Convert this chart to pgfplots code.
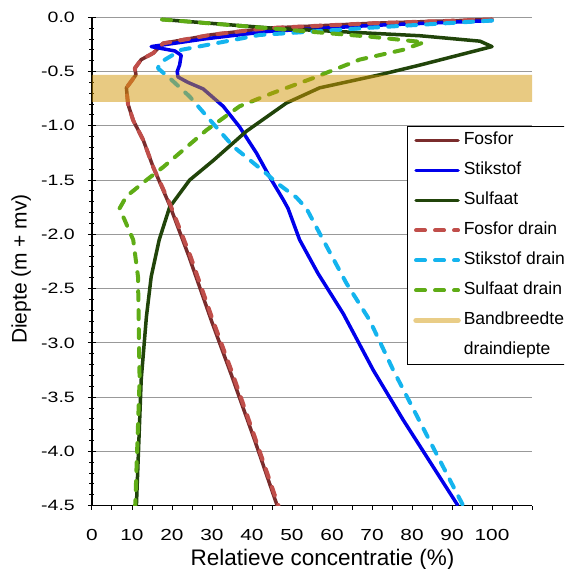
\documentclass[border=0pt]{standalone}
\usepackage{pgfplots}
\pgfplotsset{compat=1.18}
\usepackage{fontspec}
\setmainfont{Liberation Sans}
\usepackage{graphicx}
\definecolor{fosfor}{RGB}{122,44,44}
\definecolor{stik}{RGB}{0,0,235}
\definecolor{sulf}{RGB}{33,68,10}
\definecolor{fosfordr}{RGB}{192,78,74}
\definecolor{stikdr}{RGB}{20,180,238}
\definecolor{sulfdr}{RGB}{95,172,22}
\definecolor{bandfill}{RGB}{209,149,5}
\definecolor{bandleg}{RGB}{233,205,135}
\newcommand\sx[1]{\scalebox{1.3}[1]{#1}}
\begin{document}
\begin{tikzpicture}
\clip (-92pt,-63.3pt) rectangle (472pt,505.7pt);
\begin{axis}[
  scale only axis, width=440pt, height=488.4pt,
  xmin=0, xmax=110, ymin=-4.5, ymax=0,
  axis x line*=bottom, axis y line*=left,
  axis line style={line width=1.3pt, black},
  xtick={0,10,...,110}, minor x tick num=1,
  xticklabels={\sx{0},\sx{10},\sx{20},\sx{30},\sx{40},\sx{50},\sx{60},\sx{70},\sx{80},\sx{90},\sx{100},},
  ytick={-4.5,-4,...,0}, minor y tick num=4,
  yticklabels={\sx{-4.5},\sx{-4.0},\sx{-3.5},\sx{-3.0},\sx{-2.5},\sx{-2.0},\sx{-1.5},\sx{-1.0},\sx{-0.5},\sx{0.0}},
  xtick align=outside, ytick align=center,
  major tick length=8pt, minor tick length=5pt,
  xtick style={line width=1pt, black, /pgfplots/major tick length=4pt, /pgfplots/minor tick length=4pt},
  ytick style={line width=1pt, black},
  xticklabel style={font=\fontsize{16}{16}\selectfont, anchor=base, inner sep=0pt, yshift=-27pt},
  yticklabel style={font=\fontsize{15}{15}\selectfont, anchor=east, inner sep=0pt, xshift=-13pt},
  ymajorgrids, major grid style={line width=1pt, color=black!40},
  xlabel={Relatieve concentratie (\%)},
  ylabel={Diepte (m + mv)},
  every axis x label/.style={at={(axis description cs:0.524,-0.12142)}, anchor=base, font=\fontsize{22.5}{22.5}\selectfont},
  every axis y label/.style={at={(axis description cs:-0.14841,0.4846)}, rotate=90, anchor=base, font=\fontsize{21}{21}\selectfont},
  legend style={at={(axis description cs:0.7152,0.7781)}, anchor=north west, draw=black, line width=1.2pt,
    font=\fontsize{17.5}{17.5}\selectfont, inner sep=6pt, row sep=13.8pt, column sep=3pt,
    nodes={inner sep=0pt, text height=12.6pt, text depth=3.6pt}},
  legend cell align=left,
  legend image code/.code={\draw[#1, line cap=round] (0pt,0pt) -- (42pt,0pt);},
  solid line/.style={line width=3.5pt, line join=round},
  dash line/.style={line width=4pt, line cap=round, line join=round, dash pattern=on 9pt off 10pt},
]
\addplot[solid line, fosfor] coordinates {
(100,-0.02) (70,-0.055) (44,-0.10) (30,-0.16) (17.8,-0.24) (15.3,-0.33) (12.3,-0.39) (10.7,-0.47) (11.0,-0.53) (8.6,-0.65) (9.0,-0.80) (10.3,-0.95) (12.8,-1.13) (15.3,-1.38) (19.4,-1.73) (24.2,-2.2) (29.9,-2.8) (34.9,-3.3) (40.7,-3.9) (46.3,-4.5)};
\addlegendentry{Fosfor}
\addplot[solid line, stik] coordinates {
(100,-0.03) (70,-0.075) (44,-0.13) (28,-0.20) (14.8,-0.27) (20.7,-0.31) (22.3,-0.35) (21.9,-0.44) (21.3,-0.50) (21.5,-0.55) (24,-0.60) (27.8,-0.66) (32.8,-0.82) (36.9,-1.01) (41.1,-1.25) (44.4,-1.47) (47.8,-1.68) (49.0,-1.76) (51.9,-2.05) (56.5,-2.36) (62.8,-2.73) (70.3,-3.25) (77.8,-3.71) (91.5,-4.5)};
\addlegendentry{Stikstof}
\addplot[solid line, sulf] coordinates {
(17.5,-0.02) (45,-0.10) (82,-0.17) (97,-0.22) (100,-0.27) (82,-0.44) (71.9,-0.53) (56.9,-0.65) (48.6,-0.79) (38.6,-1.05) (30.3,-1.32) (24.4,-1.50) (19.4,-1.75) (16.8,-2.05) (14.8,-2.39) (13.6,-2.76) (12.3,-3.34) (11.1,-4.5)};
\addlegendentry{Sulfaat}
\addplot[dash line, fosfordr] coordinates {
(100,-0.02) (70,-0.055) (44,-0.10) (30,-0.16) (17.8,-0.24) (15.3,-0.33) (12.3,-0.39) (10.7,-0.47) (11.0,-0.53) (8.6,-0.65) (9.0,-0.80) (10.3,-0.95) (12.8,-1.13) (15.3,-1.38) (19.6,-1.73) (24.6,-2.2) (30.3,-2.8) (35.3,-3.3) (41.0,-3.9) (46.6,-4.5)};
\addlegendentry{Fosfor drain}
\addplot[dash line, stikdr] coordinates {
(100,-0.03) (70,-0.095) (41.9,-0.163) (22.3,-0.30) (16.9,-0.42) (16.5,-0.47) (20,-0.58) (24.4,-0.73) (30.3,-0.98) (35.3,-1.19) (43.6,-1.44) (46,-1.52) (51.1,-1.66) (53.6,-1.76) (56.9,-1.99) (63.6,-2.45) (69.4,-2.79) (75.3,-3.25) (92.8,-4.5)};
\addlegendentry{Stikstof drain}
\addplot[dash line, sulfdr] coordinates {
(17.5,-0.02) (44,-0.10) (70,-0.18) (83,-0.23) (77.7,-0.30) (66.9,-0.39) (55.3,-0.56) (45,-0.70) (36.9,-0.82) (28.6,-1.04) (17.8,-1.38) (13.6,-1.50) (8.6,-1.65) (6.9,-1.76) (10.3,-2.05) (11.5,-2.39) (11.9,-3.34) (10.8,-4.5)};
\addlegendentry{Sulfaat drain}
\addplot[draw=none, fill=bandfill, fill opacity=0.5,
  legend image code/.code={\draw[line width=5.5pt, color=bandleg, line cap=round] (0pt,0pt) -- (42pt,0pt);}]
  coordinates {(0,-0.53) (110,-0.53) (110,-0.78) (0,-0.78) (0,-0.53)};
\addlegendentry{Bandbreedte}
\addlegendimage{empty legend}
\addlegendentry{draindiepte}
\end{axis}
\end{tikzpicture}
\end{document}
